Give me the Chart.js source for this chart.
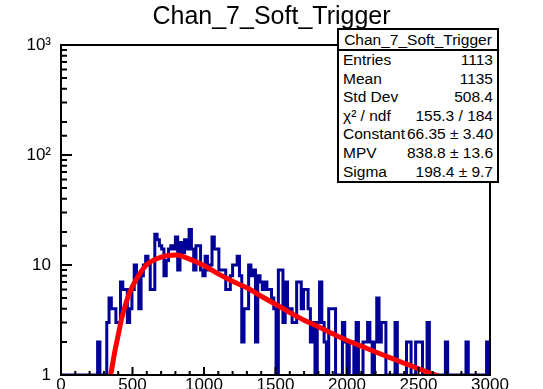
<!DOCTYPE html>
<html>
<head>
<meta charset="utf-8">
<title>Chan_7_Soft_Trigger</title>
<script src="https://cdn.jsdelivr.net/npm/chart.js@4.4.0/dist/chart.umd.min.js"></script>
<style>
  html, body { margin: 0; padding: 0; background: #fff; }
  #plot { position: relative; width: 543px; height: 389px; overflow: hidden; }
  #plot canvas { position: absolute; left: 0; top: 0; }
  .stats {
    position: absolute; left: 337px; top: 28px; width: 158px;
    border: 2px solid #000; background: #fff; color: #000;
    font: 15.5px 'Liberation Sans', Arial, Helvetica, sans-serif;
  }
  .stats .head { height: 19px; line-height: 19px; text-align: center; border-bottom: 2px solid #000; }
  .stats .row { display: flex; justify-content: space-between; height: 18.6px; line-height: 18.6px; padding: 0 4px; white-space: nowrap; }
</style>
</head>
<body>
<div id="plot">
  <canvas id="chan7" width="543" height="389"></canvas>
  <div class="stats" id="stats"></div>
</div>
<script>
const histName = 'Chan_7_Soft_Trigger';
const binWidth = 16;

// entries per 16-channel bin, starting at 0
const counts = [
  0, 0, 0, 0, 0, 0, 0, 0, 0, 0, 0, 0, 0, 0, 0, 0,
  2, 0, 0, 0, 3, 5, 4, 4, 3, 3, 7, 6, 6, 3, 4, 6,
  10, 8, 4, 8, 10, 12, 10, 6, 6, 19, 17, 15, 14, 8, 11, 14,
  15, 14, 18, 9, 16, 13, 17, 14, 21, 14, 9, 15, 15, 9, 8, 12,
  9, 10, 18, 14, 14, 9, 9, 9, 6, 6, 8, 10, 10, 12, 8, 2,
  4, 4, 10, 8, 9, 2, 8, 7, 6, 7, 6, 6, 5, 4, 0, 9,
  9, 3, 7, 4, 4, 3, 3, 7, 7, 4, 6, 6, 4, 2, 3, 0,
  3, 7, 3, 2, 0, 4, 4, 4, 0, 0, 1, 3, 2, 0, 2, 2,
  0, 3, 0, 1, 2, 2, 3, 2, 0, 2, 5, 2, 3, 3, 1, 0,
  1, 0, 3, 1, 0, 1, 0, 2, 2, 1, 0, 2, 2, 2, 1, 0,
  3, 1, 0, 1, 0, 1, 0, 1, 2, 0, 1, 0, 0, 1, 0, 0,
  1, 2, 0, 0, 1, 0, 0, 1, 0, 0, 2, 0
];

// landau fit curve
const fitX = [330, 350, 375, 400, 425, 450, 475, 500, 550, 600, 650, 700, 750, 800, 850, 900,
  950, 1000, 1100, 1200, 1300, 1400, 1500, 1600, 1700, 1800, 1900, 2000, 2100, 2200, 2300,
  2400, 2500, 2600, 2700];
const fitY = [0.75, 1.04, 1.6, 2.3, 3.3, 4.3, 5.4, 6.4, 8.3, 10.1, 11.1, 11.8, 12.2, 12.3, 12.0, 11.3,
  10.6, 9.9, 8.3, 7.1, 6.2, 5.2, 4.4, 3.7, 3.15, 2.75, 2.37, 2.06, 1.83, 1.62, 1.44,
  1.28, 1.14, 1.02, 0.92];

const xMajor = [0, 500, 1000, 1500, 2000, 2500, 3000];
const yDecades = [1, 10, 100, 1000];
const yDecadeLabels = ['1', '10', '10²', '10³'];

const statLabels = ['Entries', 'Mean', 'Std Dev', 'χ² / ndf', 'Constant', 'MPV', 'Sigma'];
const statValues = ['1113', '1135', '508.4', '155.3 / 184', '66.35 ± 3.40', '838.8 ± 13.6', '198.4 ± 9.7'];

// stats box
const box = document.getElementById('stats');
let html = '<div class="head">' + histName + '</div>';
statLabels.forEach(function (l, i) {
  html += '<div class="row"><span>' + l + '</span><span>' + statValues[i] + '</span></div>';
});
box.innerHTML = html;

// empty bins sit on the floor of the log axis
const yFloor = yDecades[0];
const histPoints = counts.map(function (c, i) {
  return { x: i * binWidth + binWidth / 2, y: Math.max(c, yFloor) };
});
const fitPoints = fitX.map(function (x, i) { return { x: x, y: fitY[i] }; });

const font = "'Liberation Sans', Arial, Helvetica, sans-serif";

// frame on all four sides plus inward tick marks
const rootFrame = {
  id: 'rootFrame',
  afterDatasetsDraw: function (chart) {
    const ctx = chart.ctx;
    const a = chart.chartArea;
    const xs = chart.scales.x;
    const ys = chart.scales.y;
    ctx.save();
    ctx.strokeStyle = '#000';
    ctx.lineWidth = 2;
    ctx.beginPath();
    ctx.rect(a.left, a.top, a.right - a.left, a.bottom - a.top);
    xs.ticks.forEach(function (t) {
      const px = xs.getPixelForValue(t.value);
      const len = xMajor.indexOf(t.value) >= 0 ? 8 : 4;
      ctx.moveTo(px, a.bottom);
      ctx.lineTo(px, a.bottom - len);
    });
    ys.ticks.forEach(function (t) {
      const py = ys.getPixelForValue(t.value);
      const len = yDecades.indexOf(t.value) >= 0 ? 11 : 6;
      ctx.moveTo(a.left, py);
      ctx.lineTo(a.left + len, py);
    });
    ctx.stroke();
    ctx.restore();
  }
};

new Chart(document.getElementById('chan7'), {
  type: 'line',
  data: {
    datasets: [
      {
        label: 'landau',
        data: fitPoints,
        borderColor: '#ff0000',
        borderWidth: 5,
        pointRadius: 0,
        cubicInterpolationMode: 'monotone',
        fill: false,
        clip: 0,
        order: 0
      },
      {
        label: histName,
        data: histPoints,
        borderColor: '#000096',
        borderWidth: 3,
        pointRadius: 0,
        stepped: 'middle',
        fill: false,
        clip: 0,
        order: 1
      }
    ]
  },
  options: {
    responsive: false,
    animation: false,
    events: [],
    layout: { padding: 0 },
    plugins: {
      legend: { display: false },
      tooltip: { enabled: false },
      title: {
        display: true,
        text: histName,
        color: '#000',
        font: { family: font, size: 25, weight: 'normal' },
        padding: { top: 2.5, bottom: 12.5 }
      }
    },
    scales: {
      x: {
        type: 'linear',
        min: 0,
        max: 3000,
        grid: { display: false, drawTicks: false },
        border: { display: false },
        ticks: {
          stepSize: 100,
          autoSkip: false,
          maxRotation: 0,
          padding: 0,
          color: '#000',
          font: { family: font, size: 17 },
          callback: function (v) { return xMajor.indexOf(v) >= 0 ? String(v) : ''; }
        },
        afterFit: function (s) { s.height = 14; }
      },
      y: {
        type: 'logarithmic',
        min: 1,
        max: 1000,
        grid: { display: false, drawTicks: false },
        border: { display: false },
        ticks: {
          autoSkip: false,
          padding: 10,
          color: '#000',
          font: { family: font, size: 17 },
          callback: function (v) {
            const k = yDecades.indexOf(v);
            return k >= 0 ? yDecadeLabels[k] : '';
          }
        },
        afterFit: function (s) {
          s.width = 61;
          s.paddingTop = 0;
          s.paddingBottom = 0;
        }
      },
      // empty margin to the right of the frame
      margin: {
        type: 'linear',
        position: 'right',
        display: true,
        grid: { display: false, drawTicks: false },
        border: { display: false },
        ticks: { display: false },
        afterFit: function (s) {
          s.width = 53;
          s.paddingTop = 0;
          s.paddingBottom = 0;
        }
      }
    }
  },
  plugins: [rootFrame]
});
</script>
</body>
</html>
